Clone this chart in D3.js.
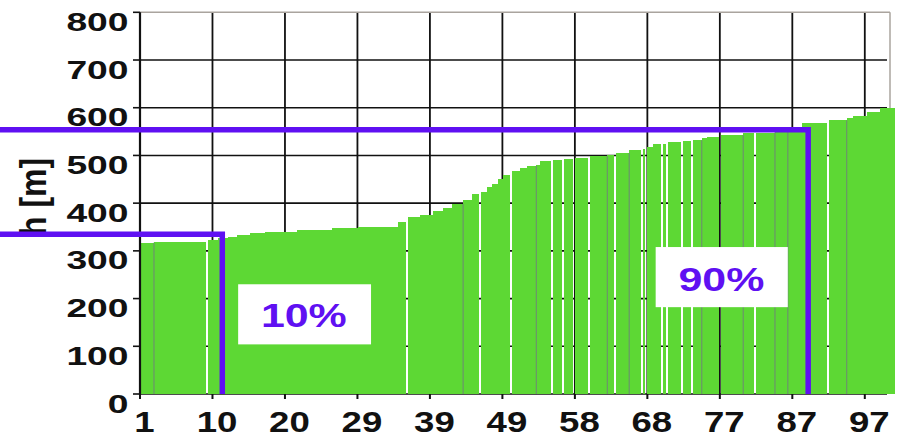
<!DOCTYPE html>
<html><head><meta charset="utf-8">
<script src="https://cdn.jsdelivr.net/npm/d3@7"></script>
<style>body{margin:0;background:#fff}svg{display:block}</style>
</head><body>
<svg id="c" width="906" height="438"></svg>
<script>
// ---- data ----
const segStart = [0,1.85,9.0,10.3,11.7,12.8,14.6,16.6,20.8,25.4,28.9,34.2,35.5,37.1,38.8,40.1,41.3,42.8,44.0,45.2,46.0,46.6,47.4,48.1,49.3,50.3,51.3,52.5,53.0,54.7,56.2,57.6,59.6,61.9,63.0,64.8,66.6,67.2,67.9,69.3,69.9,71.9,73.2,74.4,75.1,76.9,79.9,81.6,84.1,85.8,87.7,91.3,93.6,94.4,96.3,98.0];
const elevation = [317,318,322,326,330,334,337,340,344,347,350,361,370,376,384,389,398,406,419,424,433,441,450,459,468,473,478,481,489,490,492,494,499,501,505,511,514,518,523,524,528,530,532,537,539,543,546,548,550,552,569,574,578,583,590,599];
// boundary kind after each segment: "w" open gap, "g" grey divider, "" none
const gapKind = ["g","w","","","","","","","","","","w","","","","","g","","w","","","","","w","","","g","","w","w","w","w","g","w","g","w","w","","w","w","w","w","g","","w","g","w","g","g","","w","g","","","",""];
const xMax = 100;
const xTickValues = [0,9.6,19.2,28.8,38.4,48,57.6,67.2,76.8,86.4,96];
const xTickLabels = ["1","10","20","29","39","49","58","68","77","87","97"];
const yTickValues = [0,100,200,300,400,500,600,700,800];
const yTitle = "h [m]";
const markerX = [10.9, 88.5];
const markerLevel = [335, 554];
const markerLabel = ["10%", "90%"];
const labelBoxX0 = [13.0, 68.3], labelBoxX1 = [30.6, 85.8];
const labelBoxYTop = [230, 308], labelBoxYBot = [104, 182];
const labelTextX = [21.7, 77.0], labelTextY = [140, 216];

// ---- drawing ----
const GREEN = "#5dd834", BLUE = "#5f10f2", FONT = "'Liberation Sans', Arial, sans-serif";
const svg = d3.select("#c");
svg.append("rect").attr("width",906).attr("height",438).attr("fill","#fff");
const x = d3.scaleLinear().domain([0, xMax]).range([140, 895]);
const y = d3.scaleLinear().domain([0, 800]).range([394, 12.3]);
const frameRight = 890;

// horizontal grid
svg.append("g").selectAll("line").data(yTickValues.filter(v => v < 800)).join("line")
  .attr("x1", x(0)).attr("x2", frameRight - 3).attr("y1", d => y(d)).attr("y2", d => y(d))
  .attr("stroke", "#111").attr("stroke-width", 1.6);
// vertical grid
svg.append("g").selectAll("line").data(xTickValues).join("line")
  .attr("x1", d => x(d)).attr("x2", d => x(d)).attr("y1", y(800)).attr("y2", y(0))
  .attr("stroke", "#111").attr("stroke-width", 1.8);
// frame top/right (grey)
svg.append("line").attr("x1", x(0)).attr("x2", frameRight).attr("y1", y(800)).attr("y2", y(800))
  .attr("stroke", "#aaa49e").attr("stroke-width", 1.5);
svg.append("line").attr("x1", frameRight).attr("x2", frameRight).attr("y1", y(800)).attr("y2", y(0))
  .attr("stroke", "#aaa49e").attr("stroke-width", 1.5);

// bars
const segs = segStart.map((s, i) => ({
  x0: s, x1: i < segStart.length - 1 ? segStart[i + 1] : xMax, v: elevation[i], k: gapKind[i]
}));
svg.append("g").selectAll("rect").data(segs).join("rect")
  .attr("x", d => x(d.x0))
  .attr("width", d => Math.max(0.5, x(d.x1) - x(d.x0) + (d.k === "w" ? -2 : 0.4)))
  .attr("y", d => y(d.v)).attr("height", d => y(0) - y(d.v))
  .attr("fill", GREEN).attr("shape-rendering", "crispEdges");
svg.append("g").selectAll("line").data(segs.filter(d => d.k === "g")).join("line")
  .attr("x1", d => x(d.x1)).attr("x2", d => x(d.x1))
  .attr("y1", d => y(Math.min(d.v, segs[segs.indexOf(d) + 1].v))).attr("y2", y(0))
  .attr("stroke", "#6a9a66").attr("stroke-width", 1.3);

// left axis
svg.append("line").attr("x1", 140).attr("x2", 140).attr("y1", y(800)).attr("y2", y(0) + 1)
  .attr("stroke", "#111").attr("stroke-width", 2.2);
svg.append("g").selectAll("line").data(yTickValues).join("line")
  .attr("x1", 133).attr("x2", 140).attr("y1", d => y(d)).attr("y2", d => y(d))
  .attr("stroke", "#111").attr("stroke-width", 1.6);
svg.append("g").selectAll("text").data(yTickValues).join("text")
  .attr("transform", d => `translate(128.5,${y(d) + 18.5}) scale(1.46,1)`)
  .attr("text-anchor", "end").attr("font-family", FONT).attr("font-weight", "bold")
  .attr("font-size", 25.5).attr("fill", "#111").text(d => d);

// x ticks
svg.append("g").selectAll("line").data(xTickValues).join("line")
  .attr("x1", d => x(d)).attr("x2", d => x(d)).attr("y1", y(0)).attr("y2", y(0) + 5)
  .attr("stroke", "#111").attr("stroke-width", 2);
svg.append("g").selectAll("text").data(xTickValues).join("text")
  .attr("transform", d => `translate(${x(d) + 4.5},431.5) scale(1.22,1)`)
  .attr("text-anchor", "middle").attr("font-family", FONT).attr("font-weight", "bold")
  .attr("font-size", 30).attr("fill", "#111").text((d, i) => xTickLabels[i]);

// y title
svg.append("text").attr("transform", "translate(45.5,236) scale(1.15,1) rotate(-90)")
  .attr("font-family", FONT).attr("font-weight", "bold").attr("font-size", 32)
  .attr("fill", "#111").text(yTitle);

// marker lines
markerX.forEach((mx, i) => {
  svg.append("path")
    .attr("d", `M0,${y(markerLevel[i])}H${x(mx)}V${y(0)}`)
    .attr("fill", "none").attr("stroke", BLUE).attr("stroke-width", 5.5)
    .attr("stroke-linejoin", "miter");
});
// labels
markerLabel.forEach((t, i) => {
  svg.append("rect").attr("x", x(labelBoxX0[i])).attr("width", x(labelBoxX1[i]) - x(labelBoxX0[i]))
    .attr("y", y(labelBoxYTop[i])).attr("height", y(labelBoxYBot[i]) - y(labelBoxYTop[i]))
    .attr("fill", "#fff");
  svg.append("text").attr("transform", `translate(${x(labelTextX[i])},${y(labelTextY[i])}) scale(1.3,1)`)
    .attr("text-anchor", "middle").attr("font-family", FONT).attr("font-weight", "bold")
    .attr("font-size", 33).attr("fill", BLUE).text(t);
});
</script>
</body></html>
